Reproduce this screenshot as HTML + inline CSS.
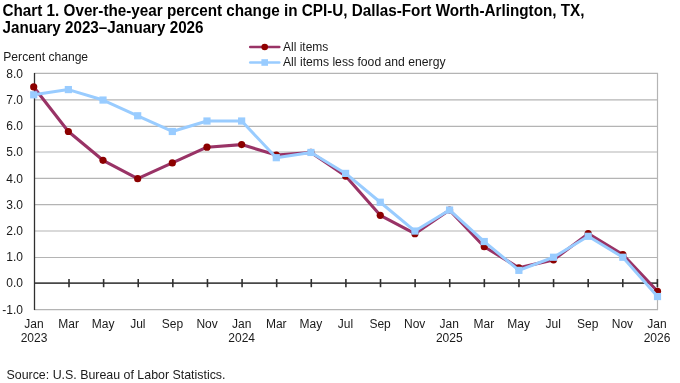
<!DOCTYPE html>
<html><head><meta charset="utf-8"><style>
html,body{margin:0;padding:0;background:#fff;width:680px;height:383px;overflow:hidden}
svg{display:block;will-change:transform}
.t{font-family:"Liberation Sans",sans-serif;font-size:12px;fill:#1a1a1a}
.title{font-family:"Liberation Sans",sans-serif;font-size:16px;font-weight:bold;fill:#000}
</style></head><body>
<svg width="680" height="383" viewBox="0 0 680 383">
<line x1="34" y1="309.6" x2="657.5" y2="309.6" stroke="#b4b4b4" stroke-width="1.2"/>
<line x1="34" y1="257.5" x2="657.5" y2="257.5" stroke="#b4b4b4" stroke-width="1.2"/>
<line x1="34" y1="231.0" x2="657.5" y2="231.0" stroke="#b4b4b4" stroke-width="1.2"/>
<line x1="34" y1="204.7" x2="657.5" y2="204.7" stroke="#b4b4b4" stroke-width="1.2"/>
<line x1="34" y1="178.35" x2="657.5" y2="178.35" stroke="#b4b4b4" stroke-width="1.2"/>
<line x1="34" y1="152.0" x2="657.5" y2="152.0" stroke="#b4b4b4" stroke-width="1.2"/>
<line x1="34" y1="126.3" x2="657.5" y2="126.3" stroke="#b4b4b4" stroke-width="1.2"/>
<line x1="34" y1="99.9" x2="657.5" y2="99.9" stroke="#b4b4b4" stroke-width="1.2"/>
<line x1="34" y1="73.47" x2="657.5" y2="73.47" stroke="#b4b4b4" stroke-width="1.2"/>
<line x1="657.5" y1="72.87" x2="657.5" y2="310.20000000000005" stroke="#b4b4b4" stroke-width="1.2"/>
<line x1="34" y1="283.1" x2="658" y2="283.1" stroke="#484848" stroke-width="1.9"/>
<line x1="69.01" y1="279" x2="69.01" y2="287.2" stroke="#303030" stroke-width="1.6"/>
<line x1="103.62" y1="279" x2="103.62" y2="287.2" stroke="#303030" stroke-width="1.6"/>
<line x1="138.23" y1="279" x2="138.23" y2="287.2" stroke="#303030" stroke-width="1.6"/>
<line x1="172.84" y1="279" x2="172.84" y2="287.2" stroke="#303030" stroke-width="1.6"/>
<line x1="207.46" y1="279" x2="207.46" y2="287.2" stroke="#303030" stroke-width="1.6"/>
<line x1="242.07" y1="279" x2="242.07" y2="287.2" stroke="#303030" stroke-width="1.6"/>
<line x1="276.68" y1="279" x2="276.68" y2="287.2" stroke="#303030" stroke-width="1.6"/>
<line x1="311.29" y1="279" x2="311.29" y2="287.2" stroke="#303030" stroke-width="1.6"/>
<line x1="345.90" y1="279" x2="345.90" y2="287.2" stroke="#303030" stroke-width="1.6"/>
<line x1="380.51" y1="279" x2="380.51" y2="287.2" stroke="#303030" stroke-width="1.6"/>
<line x1="415.12" y1="279" x2="415.12" y2="287.2" stroke="#303030" stroke-width="1.6"/>
<line x1="449.73" y1="279" x2="449.73" y2="287.2" stroke="#303030" stroke-width="1.6"/>
<line x1="484.34" y1="279" x2="484.34" y2="287.2" stroke="#303030" stroke-width="1.6"/>
<line x1="518.96" y1="279" x2="518.96" y2="287.2" stroke="#303030" stroke-width="1.6"/>
<line x1="553.57" y1="279" x2="553.57" y2="287.2" stroke="#303030" stroke-width="1.6"/>
<line x1="588.18" y1="279" x2="588.18" y2="287.2" stroke="#303030" stroke-width="1.6"/>
<line x1="622.79" y1="279" x2="622.79" y2="287.2" stroke="#303030" stroke-width="1.6"/>
<line x1="657.40" y1="279" x2="657.40" y2="287.2" stroke="#303030" stroke-width="1.6"/>
<line x1="34.5" y1="73" x2="34.5" y2="310" stroke="#303030" stroke-width="1.3"/>
<text x="23" y="313.5" text-anchor="end" class="t">-1.0</text>
<text x="23" y="287.3" text-anchor="end" class="t">0.0</text>
<text x="23" y="261.1" text-anchor="end" class="t">1.0</text>
<text x="23" y="234.9" text-anchor="end" class="t">2.0</text>
<text x="23" y="208.7" text-anchor="end" class="t">3.0</text>
<text x="23" y="182.5" text-anchor="end" class="t">4.0</text>
<text x="23" y="156.3" text-anchor="end" class="t">5.0</text>
<text x="23" y="130.1" text-anchor="end" class="t">6.0</text>
<text x="23" y="103.9" text-anchor="end" class="t">7.0</text>
<text x="23" y="77.7" text-anchor="end" class="t">8.0</text>
<text x="34.0" y="328.1" text-anchor="middle" class="t">Jan</text>
<text x="34.0" y="342.3" text-anchor="middle" class="t">2023</text>
<text x="68.6" y="328.1" text-anchor="middle" class="t">Mar</text>
<text x="103.2" y="328.1" text-anchor="middle" class="t">May</text>
<text x="137.8" y="328.1" text-anchor="middle" class="t">Jul</text>
<text x="172.4" y="328.1" text-anchor="middle" class="t">Sep</text>
<text x="207.1" y="328.1" text-anchor="middle" class="t">Nov</text>
<text x="241.7" y="328.1" text-anchor="middle" class="t">Jan</text>
<text x="241.7" y="342.3" text-anchor="middle" class="t">2024</text>
<text x="276.3" y="328.1" text-anchor="middle" class="t">Mar</text>
<text x="310.9" y="328.1" text-anchor="middle" class="t">May</text>
<text x="345.5" y="328.1" text-anchor="middle" class="t">Jul</text>
<text x="380.1" y="328.1" text-anchor="middle" class="t">Sep</text>
<text x="414.7" y="328.1" text-anchor="middle" class="t">Nov</text>
<text x="449.3" y="328.1" text-anchor="middle" class="t">Jan</text>
<text x="449.3" y="342.3" text-anchor="middle" class="t">2025</text>
<text x="483.9" y="328.1" text-anchor="middle" class="t">Mar</text>
<text x="518.6" y="328.1" text-anchor="middle" class="t">May</text>
<text x="553.2" y="328.1" text-anchor="middle" class="t">Jul</text>
<text x="587.8" y="328.1" text-anchor="middle" class="t">Sep</text>
<text x="622.4" y="328.1" text-anchor="middle" class="t">Nov</text>
<text x="657.0" y="328.1" text-anchor="middle" class="t">Jan</text>
<text x="657.0" y="342.3" text-anchor="middle" class="t">2026</text>
<polyline points="33.70,86.95 68.36,131.49 103.01,160.31 137.67,178.65 172.32,162.93 206.98,147.21 241.64,144.59 276.29,155.07 310.95,152.45 345.60,176.03 380.26,215.33 414.92,233.67 449.57,210.09 484.23,246.77 518.88,267.73 553.54,259.87 588.20,233.67 622.85,254.63 657.51,291.31" fill="none" stroke="#993366" stroke-width="3.1" stroke-linejoin="round"/>
<circle cx="33.70" cy="86.95" r="3.6" fill="#8c0000"/>
<circle cx="68.36" cy="131.49" r="3.6" fill="#8c0000"/>
<circle cx="103.01" cy="160.31" r="3.6" fill="#8c0000"/>
<circle cx="137.67" cy="178.65" r="3.6" fill="#8c0000"/>
<circle cx="172.32" cy="162.93" r="3.6" fill="#8c0000"/>
<circle cx="206.98" cy="147.21" r="3.6" fill="#8c0000"/>
<circle cx="241.64" cy="144.59" r="3.6" fill="#8c0000"/>
<circle cx="276.29" cy="155.07" r="3.6" fill="#8c0000"/>
<circle cx="310.95" cy="152.45" r="3.6" fill="#8c0000"/>
<circle cx="345.60" cy="176.03" r="3.6" fill="#8c0000"/>
<circle cx="380.26" cy="215.33" r="3.6" fill="#8c0000"/>
<circle cx="414.92" cy="233.67" r="3.6" fill="#8c0000"/>
<circle cx="449.57" cy="210.09" r="3.6" fill="#8c0000"/>
<circle cx="484.23" cy="246.77" r="3.6" fill="#8c0000"/>
<circle cx="518.88" cy="267.73" r="3.6" fill="#8c0000"/>
<circle cx="553.54" cy="259.87" r="3.6" fill="#8c0000"/>
<circle cx="588.20" cy="233.67" r="3.6" fill="#8c0000"/>
<circle cx="622.85" cy="254.63" r="3.6" fill="#8c0000"/>
<circle cx="657.51" cy="291.31" r="3.6" fill="#8c0000"/>
<polyline points="33.70,94.81 68.36,89.57 103.01,100.05 137.67,115.77 172.32,131.49 206.98,121.01 241.64,121.01 276.29,157.69 310.95,152.45 345.60,173.41 380.26,202.23 414.92,231.05 449.57,210.09 484.23,241.53 518.88,270.35 553.54,257.25 588.20,236.29 622.85,257.25 657.51,296.55" fill="none" stroke="#99ccff" stroke-width="3" stroke-linejoin="round"/>
<rect x="30.10" y="91.21" width="7.2" height="7.2" fill="#99ccff"/>
<rect x="64.76" y="85.97" width="7.2" height="7.2" fill="#99ccff"/>
<rect x="99.41" y="96.45" width="7.2" height="7.2" fill="#99ccff"/>
<rect x="134.07" y="112.17" width="7.2" height="7.2" fill="#99ccff"/>
<rect x="168.72" y="127.89" width="7.2" height="7.2" fill="#99ccff"/>
<rect x="203.38" y="117.41" width="7.2" height="7.2" fill="#99ccff"/>
<rect x="238.04" y="117.41" width="7.2" height="7.2" fill="#99ccff"/>
<rect x="272.69" y="154.09" width="7.2" height="7.2" fill="#99ccff"/>
<rect x="307.35" y="148.85" width="7.2" height="7.2" fill="#99ccff"/>
<rect x="342.00" y="169.81" width="7.2" height="7.2" fill="#99ccff"/>
<rect x="376.66" y="198.63" width="7.2" height="7.2" fill="#99ccff"/>
<rect x="411.32" y="227.45" width="7.2" height="7.2" fill="#99ccff"/>
<rect x="445.97" y="206.49" width="7.2" height="7.2" fill="#99ccff"/>
<rect x="480.63" y="237.93" width="7.2" height="7.2" fill="#99ccff"/>
<rect x="515.28" y="266.75" width="7.2" height="7.2" fill="#99ccff"/>
<rect x="549.94" y="253.65" width="7.2" height="7.2" fill="#99ccff"/>
<rect x="584.60" y="232.69" width="7.2" height="7.2" fill="#99ccff"/>
<rect x="619.25" y="253.65" width="7.2" height="7.2" fill="#99ccff"/>
<rect x="653.91" y="292.95" width="7.2" height="7.2" fill="#99ccff"/>
<line x1="250.2" y1="47" x2="279.3" y2="47" stroke="#993366" stroke-width="2.5" stroke-linecap="round"/>
<circle cx="264.7" cy="47" r="3.3" fill="#900000"/>
<line x1="250.2" y1="62.5" x2="279.3" y2="62.5" stroke="#99ccff" stroke-width="2.5" stroke-linecap="round"/>
<rect x="261.4" y="59.2" width="6.6" height="6.6" fill="#99ccff"/>
<text x="283" y="50.6" class="t">All items</text>
<text x="283" y="65.7" class="t" textLength="162.5" lengthAdjust="spacingAndGlyphs">All items less food and energy</text>
<text x="2.5" y="15.5" class="title" textLength="582" lengthAdjust="spacingAndGlyphs">Chart 1. Over-the-year percent change in CPI-U, Dallas-Fort Worth-Arlington, TX,</text>
<text x="2.5" y="33.2" class="title" textLength="201" lengthAdjust="spacingAndGlyphs">January 2023–January 2026</text>
<text x="3.3" y="61.3" class="t" textLength="84.8" lengthAdjust="spacingAndGlyphs">Percent change</text>
<text x="6.5" y="378.7" class="t" style="font-size:12.4px" textLength="219" lengthAdjust="spacingAndGlyphs">Source: U.S. Bureau of Labor Statistics.</text>
</svg>
</body></html>
